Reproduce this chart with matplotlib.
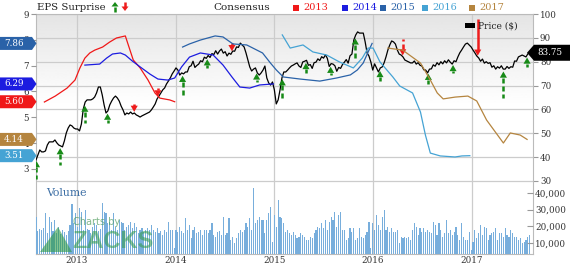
import numpy as np
import matplotlib.pyplot as plt
from matplotlib.patches import Polygon, Rectangle

plt.rcParams['font.family'] = ['DejaVu Serif']

# weekly close ($), from the first week of Aug 2012
price = [38.8, 40.9, 43.0, 42.2, 42.2, 42.6, 45.1, 46.4, 46.4, 46.4,
         47.2, 46.0, 45.1, 44.7, 44.3, 46.8, 50.1, 52.2, 53.5, 53.1,
         52.2, 51.8, 51.8, 51.0, 53.9, 60.2, 63.1, 64.0, 64.0, 64.0,
         64.4, 65.2, 66.9, 69.4, 69.4, 66.1, 61.9, 58.5, 59.4, 61.9,
         63.5, 64.8, 65.6, 64.8, 63.5, 61.4, 59.8, 57.7, 58.5, 58.1,
         58.9, 58.1, 58.5, 57.7, 57.3, 56.8, 57.3, 57.7, 58.1, 58.5,
         58.9, 59.8, 61.0, 62.3, 64.4, 65.6, 66.9, 68.2, 69.0, 70.7,
         71.9, 73.2, 74.9, 76.1, 77.4, 76.5, 74.4, 75.3, 74.9, 75.7,
         75.7, 77.9, 78.3, 80.2, 77.6, 78.4, 79.0, 80.4, 80.0, 81.9,
         81.4, 82.6, 81.8, 83.4, 83.0, 84.6, 83.2, 84.5, 85.3, 83.6,
         84.2, 82.4, 83.6, 83.1, 84.5, 84.4, 86.2, 86.0, 87.8, 87.0,
         86.2, 83.7, 80.7, 77.8, 76.1, 76.9, 77.4, 75.3, 74.4, 75.3,
         76.5, 78.2, 73.2, 71.1, 70.2, 71.5, 68.2, 62.3, 64.0, 68.2,
         73.2, 75.7, 75.7, 76.5, 77.4, 78.2, 78.6, 79.1, 79.5, 78.2,
         77.6, 79.9, 80.2, 80.6, 78.5, 78.8, 77.2, 79.6, 79.8, 81.2,
         80.5, 82.1, 81.5, 82.9, 81.4, 78.0, 79.2, 79.0, 78.3, 76.0,
         77.6, 77.2, 78.8, 79.8, 80.9, 79.4, 82.5, 83.2, 89.1, 91.2,
         92.5, 92.0, 92.0, 92.0, 88.3, 83.7, 82.4, 79.9, 76.5, 79.1,
         77.4, 75.7, 77.4, 77.8, 79.5, 82.0, 84.9, 87.0, 88.7, 88.3,
         87.4, 84.9, 83.2, 82.8, 82.0, 80.7, 80.3, 79.9, 79.5, 79.5,
         80.3, 79.0, 79.6, 78.5, 78.2, 76.6, 76.5, 75.3, 76.9, 77.0,
         78.7, 78.1, 79.6, 78.7, 80.0, 79.1, 80.4, 79.5, 80.8, 79.8,
         79.0, 80.4, 80.0, 82.0, 83.7, 84.9, 86.2, 87.4, 87.8, 87.0,
         86.2, 84.9, 83.7, 82.4, 81.6, 80.2, 81.1, 79.4, 80.0, 79.3,
         79.6, 77.7, 78.3, 76.9, 77.9, 77.3, 78.3, 76.9, 76.9, 78.0,
         77.2, 77.9, 77.7, 80.3, 80.2, 82.0, 82.4, 82.8, 82.4, 82.0,
         83.3, 83.75]

# weekly volume (thousands of shares)
volume = [25.4, 17.0, 18.2, 17.6, 19.0, 27.8, 16.0, 25.8, 22.8, 17.2,
          24.0, 15.8, 19.8, 15.2, 17.8, 16.4, 14.6, 17.0, 20.8, 33.4,
          21.8, 27.8, 19.8, 30.8, 28.8, 17.8, 29.8, 18.6, 17.8, 15.8,
          19.8, 21.8, 20.8, 17.2, 18.4, 34.0, 28.8, 27.8, 21.8, 22.8,
          17.8, 27.8, 19.8, 17.8, 23.8, 22.8, 21.8, 17.8, 19.8, 21.0,
          22.8, 18.8, 21.8, 19.8, 15.8, 17.8, 19.0, 16.8, 17.8, 18.8,
          17.8, 20.8, 17.8, 16.8, 18.8, 15.8, 17.0, 14.8, 17.8, 16.4,
          22.8, 17.8, 17.8, 6.8, 17.8, 16.8, 19.8, 17.0, 15.8, 24.8,
          17.8, 20.8, 12.8, 17.8, 19.8, 15.8, 16.8, 17.8, 14.8, 17.8,
          17.8, 15.8, 17.8, 22.2, 14.8, 13.8, 16.8, 17.0, 15.0, 25.4,
          14.8, 16.0, 24.8, 11.8, 13.8, 9.8, 12.8, 15.8, 17.8, 16.4,
          17.8, 21.8, 19.8, 24.8, 18.0, 42.8, 21.8, 23.8, 25.8, 23.8,
          23.8, 15.8, 23.8, 27.8, 31.8, 10.8, 26.8, 19.8, 35.8, 25.8,
          24.8, 22.0, 16.8, 17.8, 15.8, 14.8, 16.8, 14.8, 12.8, 13.8,
          15.8, 14.8, 13.8, 11.8, 11.8, 13.8, 12.8, 15.8, 17.8, 19.8,
          18.8, 21.8, 18.8, 23.8, 17.8, 22.8, 25.8, 23.8, 28.8, 19.8,
          26.8, 28.8, 17.8, 17.8, 11.8, 12.8, 18.8, 16.8, 18.8, 11.8,
          12.8, 18.8, 13.8, 12.8, 14.8, 16.8, 22.8, 6.8, 21.8, 17.8,
          26.8, 20.8, 17.8, 25.8, 29.8, 17.8, 19.8, 16.8, 18.8, 16.8,
          16.8, 17.8, 9.8, 13.8, 12.8, 13.8, 12.8, 13.8, 11.8, 17.8,
          21.8, 19.8, 14.8, 18.8, 16.8, 18.8, 16.8, 17.8, 16.8, 15.8,
          22.8, 20.8, 14.8, 21.8, 17.8, 13.8, 15.8, 23.8, 15.8, 17.8,
          14.8, 16.8, 19.8, 14.8, 11.8, 21.8, 13.8, 11.8, 11.8, 16.8,
          5.8, 10.8, 17.8, 12.8, 15.8, 20.8, 14.8, 19.8, 18.8, 11.8,
          14.8, 15.8, 16.8, 18.8, 11.8, 15.8, 15.8, 13.8, 18.8, 14.8,
          13.8, 17.8, 15.8, 13.8, 13.8, 11.8, 12.8, 9.8, 10.8, 11.8,
          13.8, 14.8]

week0 = 2012.585
weeks = week0 + np.arange(len(price)) * 7 / 365.25

# consensus EPS estimates by fiscal year (time in decimal years)
cons_2013_t = [2012.67, 2012.78, 2012.90, 2012.98, 2013.03, 2013.08, 2013.13, 2013.18, 2013.26, 2013.33,
               2013.40, 2013.49, 2013.52, 2013.57, 2013.64, 2013.72, 2013.79, 2013.84, 2013.94, 2013.99]
cons_2013 = [5.59, 5.82, 6.13, 6.44, 6.91, 7.29, 7.49, 7.60, 7.72, 7.91,
             8.07, 8.15, 7.80, 7.22, 6.91, 6.44, 5.94, 5.74, 5.67, 5.60]
cons_2014_t = [2013.08, 2013.23, 2013.30, 2013.36, 2013.44, 2013.49, 2013.56, 2013.64, 2013.74, 2013.82, 2013.92,
               2013.99, 2014.06, 2014.14, 2014.25, 2014.38, 2014.48, 2014.57, 2014.65, 2014.75, 2014.85, 2014.99]
cons_2014 = [7.02, 7.06, 7.29, 7.45, 7.49, 7.41, 7.18, 6.95, 6.67, 6.48, 6.44,
             6.52, 6.95, 7.33, 7.49, 7.41, 7.02, 6.56, 6.17, 6.13, 6.25, 6.29]
cons_2015_t = [2014.07, 2014.14, 2014.25, 2014.40, 2014.48, 2014.58, 2014.72, 2014.88, 2014.96, 2015.02,
               2015.09, 2015.26, 2015.46, 2015.63, 2015.77, 2015.84, 2015.90, 2015.95, 2015.99]
cons_2015 = [7.72, 7.84, 7.99, 8.15, 8.11, 7.84, 7.80, 7.49, 7.10, 6.83,
             6.56, 6.48, 6.40, 6.52, 6.64, 6.83, 7.10, 7.53, 7.86]
cons_2016_t = [2015.08, 2015.16, 2015.29, 2015.39, 2015.53, 2015.66, 2015.80, 2015.89, 2015.95, 2016.00, 2016.07,
               2016.20, 2016.27, 2016.40, 2016.48, 2016.53, 2016.58, 2016.68, 2016.83, 2016.90, 2016.98]
cons_2016 = [8.19, 7.68, 7.80, 7.53, 7.41, 7.14, 6.91, 7.29, 7.68, 7.68, 7.14,
             6.56, 6.21, 5.94, 5.20, 4.31, 3.61, 3.50, 3.46, 3.50, 3.51]
cons_2017_t = [2016.15, 2016.30, 2016.48, 2016.58, 2016.65, 2016.71, 2016.83, 2016.96, 2017.05, 2017.15,
               2017.32, 2017.39, 2017.49, 2017.56]
cons_2017 = [7.68, 7.60, 7.10, 6.44, 5.94, 5.71, 5.78, 5.82, 5.63, 4.89,
             4.00, 4.39, 4.31, 4.14]

# EPS surprise events: date and arrow size (+ beat / - miss)
surprise_t = [2012.59, 2012.83, 2013.08, 2013.31, 2013.58, 2013.82, 2014.07, 2014.32, 2014.57, 2014.82, 2015.08,
              2015.32, 2015.57, 2015.82, 2016.07, 2016.30, 2016.56, 2016.81, 2017.06, 2017.32, 2017.56]
surprise = [7.5, 7.0, 7.5, 3.8, -3.4, -3.4, 8.4, 3.8, -3.4, 3.4, 8.4,
            4.2, 3.4, 9.6, 4.2, -7.0, 4.2, 3.4, -15.5, 11.3, 3.8]

years = [2013, 2014, 2015, 2016, 2017]

series = [('2013', cons_2013_t, cons_2013, '#f01818'),
          ('2014', cons_2014_t, cons_2014, '#1c1ce0'),
          ('2015', cons_2015_t, cons_2015, '#2a62a8'),
          ('2016', cons_2016_t, cons_2016, '#45a3d4'),
          ('2017', cons_2017_t, cons_2017, '#b5853f')]

W, H = 570, 264
fig = plt.figure(figsize=(W / 100, H / 100), dpi=100)


def fx(px):
    return px / W


def fy(py):
    return 1 - py / H


ax = fig.add_axes([fx(36), fy(254), (533 - 36) / W, (254 - 14) / H])
ax_eps = ax.twinx()
ax_v = ax.twinx()

ax.set_xlim(2012.585, 2017.62)
ax.set_ylim(-0.6, 100)

grad = np.clip(np.linspace(0.895, 1.17, 200), 0, 1).reshape(-1, 1)
ax.imshow(grad, extent=(2012.585, 2017.62, -0.6, 100), aspect='auto',
          cmap='gray', vmin=0, vmax=1, origin='upper', zorder=0)
ax.set_axisbelow(True)
ax.grid(True, color='#cccccc', lw=0.9)

ax.yaxis.tick_right()
ax.set_yticks(range(30, 101, 10))
ax.set_xticks(years)
ax.set_xticklabels([str(y) for y in years])
ax.tick_params(axis='y', length=3.5, color='#999999', pad=1.5, labelsize=6.3, labelcolor='#333333')
ax.tick_params(axis='x', length=0, pad=1.5, labelsize=6.3, labelcolor='#333333')
for s in ax.spines.values():
    s.set_color('#bbbbbb')
    s.set_linewidth(0.8)

ax.plot(weeks, price, color='black', lw=0.9, zorder=3)

# surprise arrows, tip near the price line
head_w = 0.036
head_h = 2.6
for t, s in zip(surprise_t, surprise):
    p = np.interp(t, weeks, price)
    if s > 0:
        col = '#178a17'
        tip = p - 1.0
        base = tip - head_h
    else:
        col = '#ee1c1c'
        tip = p + 0.5
        base = tip + head_h
    end = tip - s
    ax.add_patch(Polygon([(t - head_w, base), (t + head_w, base), (t, tip)],
                         closed=True, fc=col, ec='none', zorder=4))
    ls = (0, (2.0, 1.2)) if abs(s) < 14 else '-'
    ax.plot([t, t], [base, end], color=col, lw=1.8, ls=ls, zorder=4,
            solid_capstyle='butt', dash_capstyle='butt')

# consensus EPS axis (left)
ax_eps.set_ylim(-0.3, 9)
ax_eps.yaxis.tick_left()
ax_eps.set_yticks(range(3, 10))
ax_eps.tick_params(axis='y', length=3.5, color='#999999', pad=1.5, labelsize=6.3, labelcolor='#333333')
for s in ax_eps.spines.values():
    s.set_visible(False)
for name, t, v, c in series:
    ax_eps.plot(t, v, color=c, lw=0.9, zorder=2)

# volume axis
ax_v.yaxis.tick_right()
ax_v.set_ylim(3400, 147400)
ax_v.set_yticks([10000, 20000, 30000, 40000])
ax_v.set_yticklabels(['{:,}'.format(v) for v in [10000, 20000, 30000, 40000]])
ax_v.tick_params(axis='y', direction='in', length=4, color='#999999', pad=1.5, labelsize=6.3,
                 labelcolor='#333333')
for s in ax_v.spines.values():
    s.set_visible(False)
ax_v.bar(weeks, [v * 1000 for v in volume], width=0.6 * 7 / 365.25, bottom=0,
         color='#78aedc', edgecolor='none', zorder=1)


def left_tag(val, color):
    yd = ax_eps.transData.transform((2013, val))[1]
    yc = H - yd
    pts = [(-2, yc - 6.5), (32, yc - 6.5), (36.5, yc), (32, yc + 6.5), (-2, yc + 6.5)]
    fig.add_artist(Polygon([(fx(a), fy(b)) for a, b in pts], closed=True,
                           transform=fig.transFigure, fc=color, ec='none', zorder=5))
    fig.text(fx(14), fy(yc), '{:.2f}'.format(val), color='white', fontsize=6.3,
             ha='center', va='center', zorder=6)


for name, t, v, c in series:
    left_tag(v[-1], c)

# last price tag (right)
yd = ax.transData.transform((2017, price[-1]))[1]
yc = H - yd
pts = [(527, yc), (534, yc - 8), (575, yc - 8), (575, yc + 8), (534, yc + 8)]
fig.add_artist(Polygon([(fx(a), fy(b)) for a, b in pts], closed=True,
                       transform=fig.transFigure, fc='black', ec='none', zorder=5))
fig.text(fx(550), fy(yc), '{:.2f}'.format(price[-1]), color='white', fontsize=6.3,
         ha='center', va='center', zorder=6)

# header legend
fig.text(fx(37), fy(7.5), 'EPS Surprise', fontsize=7.3, va='center', ha='left', color='#222222')
fig.add_artist(Polygon([(fx(111.5), fy(6.5)), (fx(118.5), fy(6.5)), (fx(115), fy(2))],
                       closed=True, transform=fig.transFigure, fc='#178a17', ec='none'))
fig.add_artist(plt.Line2D([fx(115), fx(115)], [fy(6.5), fy(11.5)], transform=fig.transFigure,
                          color='#178a17', lw=1.8, ls=(0, (2, 1.2))))
fig.add_artist(Polygon([(fx(121.5), fy(6.5)), (fx(128.5), fy(6.5)), (fx(125), fy(11))],
                       closed=True, transform=fig.transFigure, fc='#ee1c1c', ec='none'))
fig.add_artist(plt.Line2D([fx(125), fx(125)], [fy(1.5), fy(6.5)], transform=fig.transFigure,
                          color='#ee1c1c', lw=1.8, ls=(0, (2, 1.2))))

fig.text(fx(213), fy(7.5), 'Consensus', fontsize=7.5, va='center', ha='left', color='#222222')
for (name, t, v, c), x0 in zip(series, [293, 342, 380, 422, 469]):
    fig.add_artist(Rectangle((fx(x0), fy(11)), 6 / W, 6 / H, transform=fig.transFigure,
                             fc=c, ec='none'))
    fig.text(fx(x0 + 10), fy(7.5), name, fontsize=7, va='center', ha='left', color=c)

fig.add_artist(Rectangle((fx(465), fy(28)), 10 / W, 5 / H, transform=fig.transFigure,
                         fc='black', ec='none', zorder=5))
fig.text(fx(478), fy(26), 'Price ($)', fontsize=6.5, va='center', ha='left', color='#222222')

fig.text(fx(46), fy(193), 'Volume', fontsize=7.8, va='center', ha='left', color='#3d6fa5')

# watermark
fig.add_artist(Polygon([(fx(40), fy(252)), (fx(58), fy(227)), (fx(72), fy(252))], closed=True,
                       transform=fig.transFigure, fc='#2f9a45', ec='none', alpha=0.6))
fig.text(fx(73), fy(222), 'Charts by', fontsize=7, family='DejaVu Sans', va='center', ha='left',
         color='#4c9a5a', alpha=0.7)
fig.text(fx(72), fy(241), 'ZACKS', fontsize=17, family='Liberation Sans', weight='bold',
         va='center', ha='left', color='#2f9a45', alpha=0.55)

fig.savefig('out.png', dpi=100)
